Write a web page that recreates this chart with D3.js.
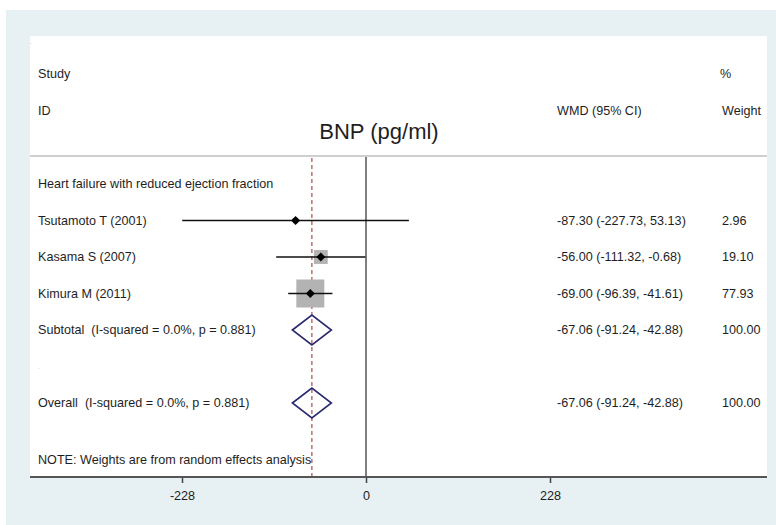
<!DOCTYPE html>
<html>
<head>
<meta charset="utf-8">
<script src="https://cdn.jsdelivr.net/npm/d3@7"></script>
<style>
  body { margin: 0; background: #fff; }
  svg text { font-family: "Liberation Sans", Arial, sans-serif; fill: #1e1e1e; white-space: pre; }
</style>
</head>
<body>
<div id="chart"></div>
<script>
const W = 776, H = 525;

// data
const groupLabel = "Heart failure with reduced ejection fraction";
const studies = ["Tsutamoto T (2001)", "Kasama S (2007)", "Kimura M (2011)"];
const est = [-87.30, -56.00, -69.00];
const lo = [-227.73, -111.32, -96.39];
const hi = [53.13, -0.68, -41.61];
const weights = [2.96, 19.10, 77.93];

const pooledLabels = ["Subtotal  (I-squared = 0.0%, p = 0.881)", "Overall  (I-squared = 0.0%, p = 0.881)"];
const pooledEst = [-67.06, -67.06];
const pooledLo = [-91.24, -91.24];
const pooledHi = [-42.88, -42.88];
const pooledWeights = [100.00, 100.00];

const tickValues = [-228, 0, 228];

const fs = 12.6;

const svg = d3.select("#chart")
    .append("svg")
    .attr("width", W)
    .attr("height", H);

// outer light frame and white plot panel
svg.append("rect").attr("x", 6).attr("y", 10).attr("width", W - 6).attr("height", H - 10).attr("fill", "#e7f0f2");
const panel = {left: 30, right: 767, top: 36, bottom: 477};
svg.append("rect")
    .attr("x", panel.left).attr("y", panel.top)
    .attr("width", panel.right - panel.left).attr("height", panel.bottom - panel.top)
    .attr("fill", "#fff");

const x = d3.scaleLinear().domain([-228, 228]).range([182, 550]);

// row positions: group header, 3 studies, subtotal, blank, overall
const rowY = d3.scaleLinear().domain([0, 6]).range([184, 403]);

const textX = 38, ciX = 557, wX = 722;

// headers
svg.append("text").attr("x", textX).attr("y", 78).attr("font-size", fs).text("Study");
svg.append("text").attr("x", textX).attr("y", 115).attr("font-size", fs).text("ID");
svg.append("text").attr("x", 720).attr("y", 78).attr("font-size", fs).text("%");
svg.append("text").attr("x", wX).attr("y", 115).attr("font-size", fs).text("Weight");
svg.append("text").attr("x", ciX).attr("y", 115).attr("font-size", fs).text("WMD (95% CI)");
svg.append("text").attr("x", 379).attr("y", 139).attr("font-size", 22)
    .attr("text-anchor", "middle").text("BNP (pg/ml)");
svg.append("text").attr("x", 30).attr("y", 44).attr("font-size", 6).style("fill", "#999").text(".");

// separator under header
svg.append("line")
    .attr("x1", panel.left).attr("x2", panel.right)
    .attr("y1", 156).attr("y2", 156)
    .attr("stroke", "#cfcfcf").attr("stroke-width", 2);

// no-effect line and pooled estimate line
svg.append("line")
    .attr("x1", x(0)).attr("x2", x(0))
    .attr("y1", 157).attr("y2", panel.bottom)
    .attr("stroke", "#555").attr("stroke-width", 1.5);
svg.append("line")
    .attr("x1", x(pooledEst[1])).attr("x2", x(pooledEst[1]))
    .attr("y1", 158).attr("y2", panel.bottom)
    .attr("stroke", "#b5585a").attr("stroke-width", 1.3)
    .attr("stroke-dasharray", "4,3");

// group header row
svg.append("text").attr("x", textX).attr("y", rowY(0) + 4).attr("font-size", fs).text(groupLabel);

const boxSize = d3.scaleSqrt().domain([0, d3.max(weights)]).range([0, 28]);

const rows = svg.append("g")
    .selectAll("g")
    .data(studies)
    .join("g")
    .attr("transform", (d, i) => `translate(0,${rowY(i + 1)})`);

rows.append("rect")
    .attr("x", (d, i) => x(est[i]) - boxSize(weights[i]) / 2)
    .attr("y", (d, i) => -boxSize(weights[i]) / 2)
    .attr("width", (d, i) => boxSize(weights[i]))
    .attr("height", (d, i) => boxSize(weights[i]))
    .attr("fill", "#b3b3b3");

rows.append("line")
    .attr("x1", (d, i) => x(lo[i]))
    .attr("x2", (d, i) => x(hi[i]))
    .attr("stroke", "#111").attr("stroke-width", 1.4);

rows.append("path")
    .attr("d", (d, i) => {
        const cx = x(est[i]);
        return `M${cx - 4.5},0L${cx},-4.5L${cx + 4.5},0L${cx},4.5Z`;
    })
    .attr("fill", "#000");

rows.append("text").attr("x", textX).attr("y", 4).attr("font-size", fs).text(d => d);
rows.append("text").attr("x", ciX).attr("y", 4).attr("font-size", fs)
    .text((d, i) => `${est[i].toFixed(2)} (${lo[i].toFixed(2)}, ${hi[i].toFixed(2)})`);
rows.append("text").attr("x", wX).attr("y", 4).attr("font-size", fs)
    .text((d, i) => weights[i].toFixed(2));

// pooled rows (subtotal at row 4, overall at row 6)
const pooledRow = [4, 6];
const pooled = svg.append("g")
    .selectAll("g")
    .data(pooledLabels)
    .join("g")
    .attr("transform", (d, i) => `translate(0,${rowY(pooledRow[i])})`);

pooled.append("path")
    .attr("d", (d, i) => `M${x(pooledLo[i])},0L${x(pooledEst[i])},-15L${x(pooledHi[i])},0L${x(pooledEst[i])},15Z`)
    .attr("fill", "none")
    .attr("stroke", "#2c2a6e")
    .attr("stroke-width", 1.6);

pooled.append("text").attr("x", textX).attr("y", 4).attr("font-size", fs).text(d => d);
pooled.append("text").attr("x", ciX).attr("y", 4).attr("font-size", fs)
    .text((d, i) => `${pooledEst[i].toFixed(2)} (${pooledLo[i].toFixed(2)}, ${pooledHi[i].toFixed(2)})`);
pooled.append("text").attr("x", wX).attr("y", 4).attr("font-size", fs)
    .text((d, i) => pooledWeights[i].toFixed(2));

// blank row marker
svg.append("text").attr("x", 38).attr("y", rowY(5) + 2).attr("font-size", 6).style("fill", "#aaa").text(".");

// note
svg.append("text").attr("x", textX).attr("y", 464).attr("font-size", fs)
    .text("NOTE: Weights are from random effects analysis");

// x axis
const axis = svg.append("g")
    .attr("transform", `translate(0,${panel.bottom})`)
    .call(d3.axisBottom(x).tickValues(tickValues).tickSize(6).tickSizeOuter(0).tickFormat(d => String(d)));
axis.select(".domain").remove();
axis.selectAll(".tick line").attr("stroke", "#444").attr("stroke-width", 1.5);
axis.selectAll(".tick text").attr("font-size", fs).attr("dy", "1.15em").style("fill", "#1e1e1e")
    .attr("font-family", "Liberation Sans, Arial, sans-serif");
svg.append("line")
    .attr("x1", panel.left).attr("x2", panel.right)
    .attr("y1", panel.bottom).attr("y2", panel.bottom)
    .attr("stroke", "#555").attr("stroke-width", 1.8);
</script>
</body>
</html>
